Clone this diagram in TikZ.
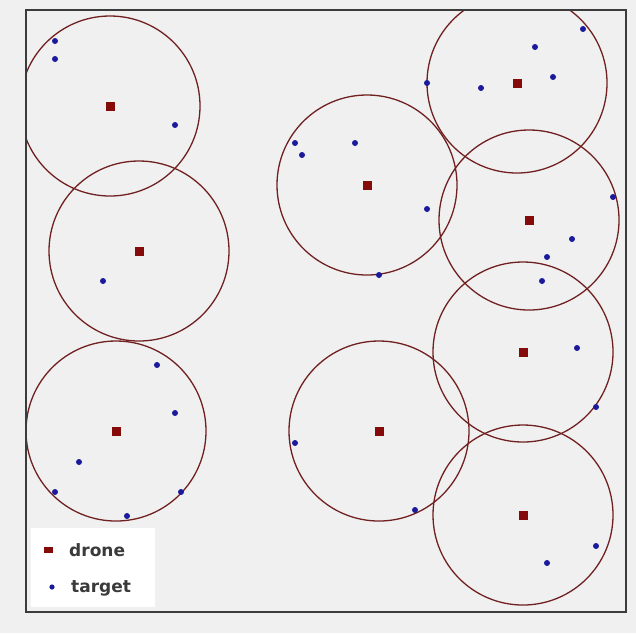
\documentclass[tikz,border=0pt]{standalone}
\usepackage{xcolor}
\usepackage{fontspec}
\setmainfont{DejaVu Sans}
\usetikzlibrary{calc,positioning}

\definecolor{plotbg}{HTML}{F0F0F0}
\definecolor{dronered}{HTML}{850A0A}
\definecolor{ringred}{HTML}{702020}
\definecolor{targetblue}{HTML}{1A1A9A}
\definecolor{framegray}{HTML}{3C3C3C}
\definecolor{legendtext}{HTML}{3A3A3A}

\tikzset{
  ring/.style={draw=ringred, line width=1.3pt},
  drone/.style={fill=dronered},
  target/.style={fill=targetblue},
  legendlabel/.style={anchor=west, inner sep=0pt, text=legendtext,
    font=\fontsize{17}{20}\selectfont\bfseries}
}

\begin{document}
\begin{tikzpicture}[x=1pt, y=-1pt]

    \useasboundingbox[fill=plotbg] (0,0) rectangle (636,633);

    % Plot area
    \begin{scope}
      \clip (26,10) rectangle (626,612);

      % Drones and their range
      \foreach \x/\y in {110/106, 139/251, 116/431, 367/185, 379/431,
                         517/83, 529/220, 523/352, 523/515} {
          \draw[ring] (\x,\y) circle (90pt);
          \fill[drone] (\x-4.5,\y-4.5) rectangle (\x+4.5,\y+4.5);
      }

      % Targets
      \foreach \x/\y in {55/41, 55/59, 175/125, 103/281,
                         157/365, 175/413, 79/462, 55/492, 181/492, 127/516,
                         295/143, 302/155, 355/143, 427/209, 379/275,
                         583/29, 535/47, 553/77, 481/88, 427/83,
                         613/197, 572/239, 547/257, 542/281,
                         295/443, 415/510,
                         577/348, 596/407, 596/546, 547/563} {
          \fill[target] (\x,\y) circle (3pt);
      }
    \end{scope}

    % Frame
    \draw[framegray, line width=2.2pt] (26,10) rectangle (626,612);

    % Legend
    \fill[white] (31,528) rectangle (155,607);
    \fill[drone] (44,547) rectangle (53,553);
    \fill[target] (52,587) circle (2.6pt);
    \node[legendlabel] (dronelabel) at (69,550) {drone};
    \node[legendlabel] (targetlabel) at (71,588) {target};
\end{tikzpicture}
\end{document}
